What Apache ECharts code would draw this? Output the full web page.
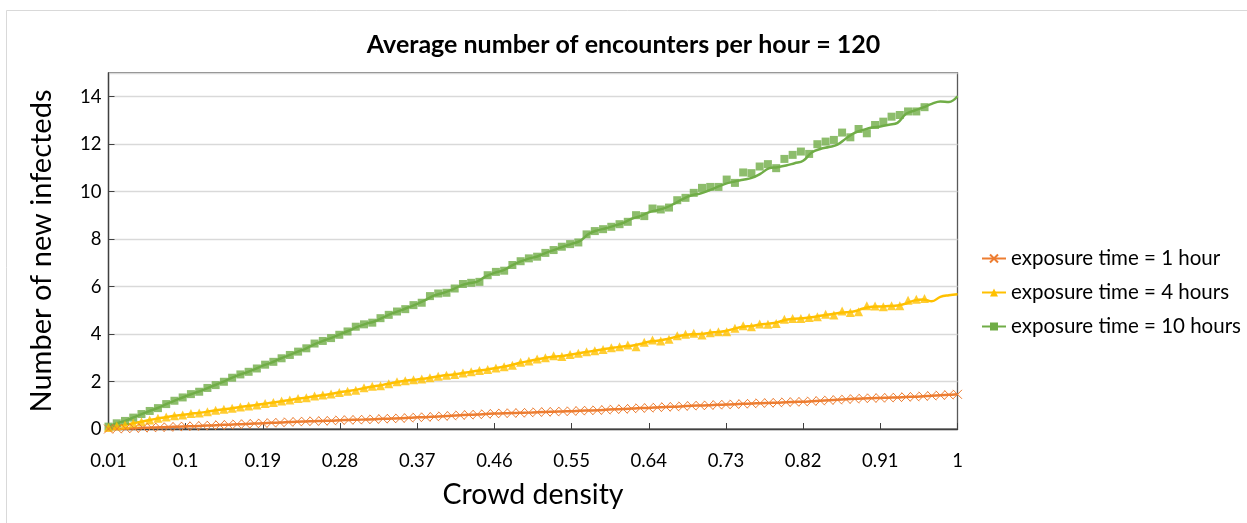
<!DOCTYPE html>
<html>
<head>
<meta charset="utf-8">
<script src="https://cdn.jsdelivr.net/npm/echarts@6/dist/echarts.min.js"></script>
<style>
html,body{margin:0;padding:0;background:#fff;}
#c{width:1247px;height:523px;}
</style>
</head>
<body>
<div id="c"></div>
<script>
// Crowd density categories (0.01 ... 1)
const densities = [0.01,0.02,0.03,0.04,0.05,0.06,0.07,0.08,0.09,0.1,
0.11,0.12,0.13,0.14,0.15,0.16,0.17,0.18,0.19,0.2,
0.21,0.22,0.23,0.24,0.25,0.26,0.27,0.28,0.29,0.3,
0.31,0.32,0.33,0.34,0.35,0.36,0.37,0.38,0.39,0.4,
0.41,0.42,0.43,0.44,0.45,0.46,0.47,0.48,0.49,0.5,
0.51,0.52,0.53,0.54,0.55,0.56,0.57,0.58,0.59,0.6,
0.61,0.62,0.63,0.64,0.65,0.66,0.67,0.68,0.69,0.7,
0.71,0.72,0.73,0.74,0.75,0.76,0.77,0.78,0.79,0.8,
0.81,0.82,0.83,0.84,0.85,0.86,0.87,0.88,0.89,0.9,
0.91,0.92,0.93,0.94,0.95,0.96,0.97,0.98,0.99,1];

// Marker points of the 4h / 10h series sit on a slightly narrower sampling
const markerSlots = densities.concat(['', '', '', '']);

const yTicks = [0,2,4,6,8,10,12,14];

// exposure time = 1 hour
const exp1h = [0.00,0.01,0.02,0.03,0.05,0.06,0.07,0.08,0.10,0.11,
0.12,0.14,0.15,0.17,0.18,0.20,0.21,0.23,0.24,0.26,
0.27,0.29,0.31,0.32,0.33,0.34,0.35,0.37,0.38,0.39,
0.40,0.41,0.43,0.44,0.45,0.47,0.49,0.50,0.52,0.54,
0.56,0.58,0.60,0.61,0.63,0.65,0.66,0.67,0.68,0.69,
0.71,0.72,0.73,0.74,0.75,0.77,0.78,0.79,0.81,0.83,
0.84,0.86,0.88,0.89,0.91,0.93,0.94,0.96,0.98,0.99,
1.00,1.02,1.03,1.04,1.06,1.07,1.09,1.10,1.11,1.13,
1.14,1.15,1.17,1.19,1.21,1.23,1.25,1.27,1.29,1.30,
1.31,1.32,1.33,1.35,1.36,1.38,1.40,1.42,1.44,1.46];

// exposure time = 4 hours (curve and markers)
const exp4hLine = [0.03,0.12,0.18,0.25,0.32,0.39,0.46,0.52,0.57,0.61,
0.66,0.70,0.76,0.81,0.85,0.91,0.96,1.00,1.05,1.11,
1.16,1.21,1.27,1.32,1.38,1.43,1.48,1.55,1.60,1.66,
1.74,1.80,1.86,1.93,2.00,2.05,2.09,2.13,2.19,2.25,
2.29,2.34,2.39,2.45,2.50,2.56,2.62,2.70,2.79,2.86,
2.94,3.00,3.05,3.08,3.14,3.20,3.26,3.32,3.38,3.43,
3.48,3.51,3.58,3.68,3.72,3.78,3.87,3.95,3.99,4.00,
4.05,4.09,4.13,4.23,4.31,4.34,4.40,4.44,4.50,4.60,
4.65,4.67,4.71,4.77,4.82,4.88,4.92,4.96,5.08,5.15,
5.16,5.18,5.20,5.29,5.42,5.46,5.38,5.57,5.64,5.68];
const exp4hMarks = [0.06,0.13,0.17,0.24,0.31,0.38,0.45,0.51,0.56,0.59,
0.65,0.67,0.73,0.79,0.83,0.87,0.93,0.97,1.01,1.07,
1.12,1.18,1.22,1.29,1.32,1.39,1.43,1.47,1.54,1.59,
1.63,1.74,1.80,1.82,1.91,1.99,2.03,2.08,2.11,2.16,
2.22,2.27,2.30,2.36,2.41,2.47,2.51,2.57,2.62,2.69,
2.81,2.86,2.95,3.00,3.09,3.05,3.14,3.19,3.26,3.30,
3.35,3.42,3.47,3.54,3.47,3.65,3.75,3.71,3.78,3.93,
3.99,4.03,3.96,4.06,4.10,4.10,4.24,4.35,4.31,4.42,
4.41,4.45,4.62,4.66,4.66,4.70,4.73,4.83,4.80,4.97,
4.91,4.94,5.19,5.18,5.15,5.19,5.19,5.43,5.47,5.50];

// exposure time = 10 hours (curve and markers)
const exp10hLine = [0.10,0.24,0.35,0.50,0.65,0.79,0.92,1.09,1.24,1.38,
1.51,1.64,1.79,1.93,2.09,2.25,2.37,2.51,2.67,2.80,
2.96,3.10,3.25,3.39,3.57,3.71,3.84,3.99,4.14,4.30,
4.43,4.53,4.69,4.86,4.99,5.13,5.27,5.44,5.63,5.73,
5.86,6.03,6.14,6.21,6.43,6.58,6.68,6.88,7.05,7.18,
7.27,7.42,7.55,7.68,7.80,7.93,8.22,8.37,8.46,8.57,
8.68,8.86,8.97,9.13,9.22,9.33,9.50,9.70,9.85,9.92,
10.05,10.20,10.34,10.43,10.50,10.58,10.75,10.98,11.03,11.10,
11.20,11.30,11.65,11.80,11.88,11.98,12.24,12.48,12.60,12.70,
12.75,12.82,12.90,13.28,13.42,13.55,13.70,13.80,13.78,14.02];
const exp10hMarks = [0.10,0.24,0.34,0.48,0.63,0.76,0.88,1.05,1.19,1.33,
1.47,1.57,1.73,1.85,1.99,2.16,2.30,2.41,2.55,2.71,
2.83,2.98,3.12,3.26,3.40,3.60,3.71,3.83,3.97,4.11,
4.31,4.41,4.48,4.67,4.81,4.95,5.05,5.22,5.32,5.60,
5.71,5.74,5.92,6.11,6.16,6.20,6.48,6.62,6.67,6.91,
7.07,7.19,7.26,7.42,7.54,7.68,7.79,7.86,8.20,8.34,
8.42,8.52,8.63,8.73,9.01,8.97,9.29,9.25,9.33,9.64,
9.74,9.95,10.16,10.20,10.20,10.51,10.37,10.81,10.78,11.06,
11.16,10.99,11.38,11.55,11.69,11.59,12.00,12.11,12.18,12.49,
12.29,12.64,12.46,12.81,12.95,13.16,13.23,13.38,13.38,13.56];

const names = ['exposure time = 1 hour','exposure time = 4 hours','exposure time = 10 hours'];
const colors = ['#ED7D31','#FFC000','#70AD47'];
const FONT = 'Lato';
const xPath = 'path://M0,0L10,10M10,0L0,10';

const chart = echarts.init(document.getElementById('c'), null, {renderer:'canvas'});
chart.setOption({
  animation:false,
  backgroundColor:'#fff',
  graphic:[{
    type:'rect', silent:true, z:-10,
    shape:{x:6.5,y:10.5,width:1260,height:530},
    style:{fill:'none',stroke:'#D9D9D9',lineWidth:1}
  }],
  title:{
    text:'Average number of encounters per hour = 120',
    left:'center', top:27,
    textStyle:{fontFamily:FONT,fontWeight:'bold',fontSize:25,color:'#000'}
  },
  legend:{
    orient:'vertical', left:976, top:243, itemGap:13, itemWidth:24, itemHeight:10,
    data:names,
    textStyle:{fontFamily:FONT,fontSize:20.5,color:'#000'}
  },
  grid:{left:108.5,right:289.5,top:73,bottom:94,show:true,borderColor:'#595959',borderWidth:1.3,containLabel:false},
  xAxis:[{
    type:'category', data:densities, boundaryGap:false,
    axisLine:{lineStyle:{color:'#404040',width:1.3}},
    axisTick:{show:true,inside:true,interval:8,length:6,lineStyle:{color:'#404040'}},
    axisLabel:{interval:8,margin:23,fontFamily:FONT,fontSize:18.5,color:'#000'},
    name:'Crowd density', nameLocation:'middle', nameGap:51,
    nameTextStyle:{fontFamily:FONT,fontSize:28.5,color:'#000'},
    splitLine:{show:false}
  },{
    type:'category', data:markerSlots, boundaryGap:false, show:false
  }],
  yAxis:{
    type:'value', min:0, max:15, interval:2,
    axisLine:{show:true,lineStyle:{color:'#404040',width:1.3}},
    axisTick:{show:true,inside:true,length:6,lineStyle:{color:'#404040'}},
    axisLabel:{showMaxLabel:false,margin:7,fontFamily:FONT,fontSize:18.5,color:'#000',
      formatter:function(v){return yTicks.indexOf(v)>=0? String(v):'';}},
    splitLine:{lineStyle:{color:'#D9D9D9',width:1.3}},
    name:'Number of new infecteds', nameLocation:'middle', nameGap:52,
    nameTextStyle:{fontFamily:FONT,fontSize:29,color:'#000'}
  },
  series:[
    {name:names[2],type:'line',xAxisIndex:0,data:exp10hLine,smooth:0.4,showSymbol:false,
      symbol:'rect',symbolSize:6,lineStyle:{color:colors[2],width:2.5},itemStyle:{color:colors[2]},z:3},
    {name:names[2],type:'scatter',xAxisIndex:1,data:exp10hMarks,symbol:'rect',symbolSize:8,
      itemStyle:{color:colors[2]},z:4},
    {name:names[1],type:'line',xAxisIndex:0,data:exp4hLine,smooth:0.4,showSymbol:false,
      symbol:'triangle',symbolSize:8,lineStyle:{color:colors[1],width:2.5},itemStyle:{color:colors[1]},z:3},
    {name:names[1],type:'scatter',xAxisIndex:1,data:exp4hMarks,symbol:'triangle',symbolSize:9,
      itemStyle:{color:colors[1]},z:4},
    {name:names[0],type:'line',xAxisIndex:0,data:exp1h,smooth:0.4,symbol:xPath,symbolSize:9,
      showSymbol:true,showAllSymbol:true,
      lineStyle:{color:colors[0],width:2.5},itemStyle:{color:'none',borderColor:colors[0],borderWidth:1},z:4}
  ]
});
</script>
</body>
</html>
